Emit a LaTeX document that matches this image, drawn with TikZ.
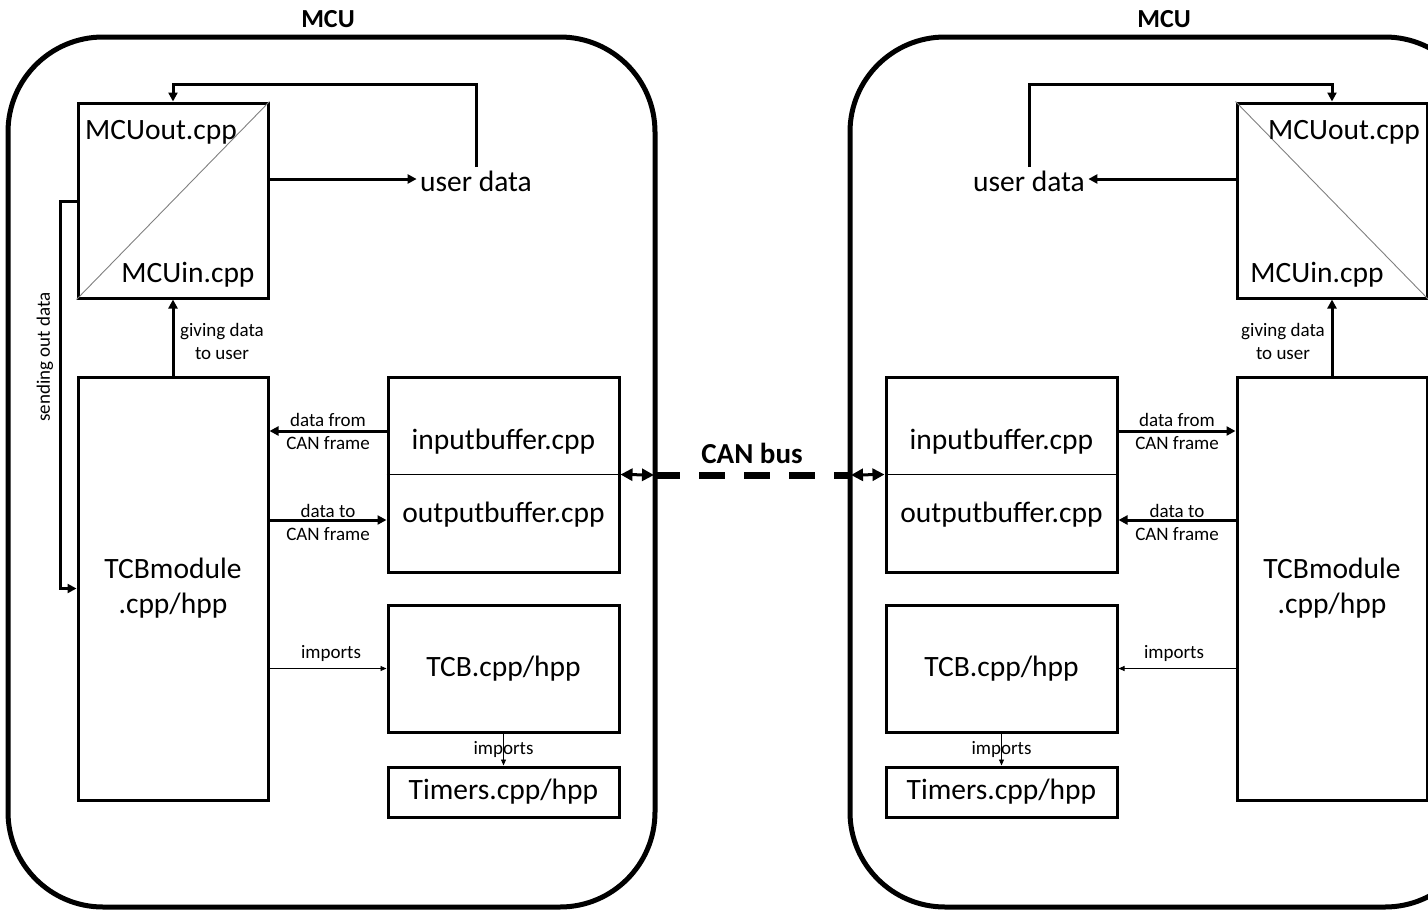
\documentclass[tikz,border=0pt]{standalone}
\usepackage{fontspec}
\setmainfont{Carlito}
\usetikzlibrary{arrows.meta}

\begin{document}
\begin{tikzpicture}[x=1pt, y=-1pt,
        bigtext/.style={font=\fontsize{29.5}{35}\selectfont},
        smalltext/.style={font=\fontsize{19}{23}\selectfont, align=center, inner sep=1pt},
        titletext/.style={font=\fontsize{26}{30}\selectfont\bfseries},
        filebox/.style={draw, line width=3pt, inner sep=0pt, bigtext, align=center},
        board/.style={line width=5pt, rounded corners=95pt},
        divider/.style={line width=0.9pt},
        split/.style={line width=0.9pt, gray},
        arr/.style={line width=3pt, -{Triangle[length=9pt,width=9pt]}},
        thinarr/.style={line width=0.9pt, -{Triangle[length=6pt,width=5pt]}},
        canarr/.style={line width=3pt, {Triangle[length=12pt,width=12pt]}-{Triangle[length=12pt,width=12pt]}},
        canline/.style={line width=7pt, dash pattern=on 26pt off 19pt}
    ]
    \useasboundingbox (0,0) rectangle (1428,911);
    \clip (0,0) rectangle (1428,911);

    % the two boards
    \draw[board] (8,37) rectangle (655,907);
    \draw[board] (850,37) rectangle (1480,907);
    \node[titletext] (mcuL) at (328,19) {MCU};
    \node[titletext] (mcuR) at (1164,19) {MCU};

    \foreach \s/\c/\m/\inr/\outr in {L/0/1/east/west, R/1505/-1/west/east} {
    \begin{scope}[shift={(\c,0)}, xscale=\m]
        \node[filebox, minimum width=190pt, minimum height=195pt] (mcuio\s) at (173,200.5) {};
        \node[filebox, minimum width=190pt, minimum height=423pt] (tcbm\s) at (173,588.5) {TCBmodule\\.cpp/hpp};
        \node[filebox, minimum width=231pt, minimum height=195pt] (buf\s) at (503.5,474.5) {};
        \node[filebox, minimum width=231pt, minimum height=127pt] (tcb\s) at (503.5,668.5) {TCB.cpp/hpp};
        \node[filebox, minimum width=231pt, minimum height=50pt] (tim\s) at (503.5,792) {Timers.cpp/hpp};
        \node[bigtext] (user\s) at (476,181) {user data};
        \coordinate (top\s) at (173,84);

        \draw[split] (mcuio\s.south \outr) -- (mcuio\s.north \inr);
        \node[bigtext] (out\s) at (161,132) {MCUout.cpp};
        \node[bigtext] (in\s) at (188,275) {MCUin.cpp};
        \draw[divider] (buf\s.\outr) -- (buf\s.\inr);
        \node[bigtext] (ibuf\s) at (503.5,442) {inputbuffer.cpp};
        \node[bigtext] (obuf\s) at (503.5,515) {outputbuffer.cpp};

        \draw[arr] (user\s.north) |- (top\s) -- (mcuio\s.north);
        \draw[arr] (mcuio\s.\inr |- 0,179) -- (user\s.\outr |- 0,179);
        \draw[arr] (tcbm\s.north) -- (mcuio\s.south);
        \node[smalltext] (give\s) at (222,341) {giving data\\to user};
        \draw[arr] (buf\s.\outr |- 0,431) -- (tcbm\s.\inr |- 0,431);
        \node[smalltext] (from\s) at (328,431) {data from\\CAN frame};
        \draw[arr] (tcbm\s.\inr |- 0,520) -- (buf\s.\outr |- 0,520);
        \node[smalltext] (to\s) at (328,522) {data to\\CAN frame};
        \draw[thinarr] (tcbm\s.\inr |- tcb\s) -- (tcb\s.\outr);
        \node[smalltext] (imp\s) at (331,653) {imports};
        \draw[thinarr] (tcb\s) -- (tim\s);
        \node[smalltext] (imq\s) at (503.5,749) {imports};
    \end{scope}
    }

    % only the left board shows this loop
    \coordinate (send) at (60,201);
    \draw[arr] (mcuioL.west |- send) -- (send) |- (tcbmL.west);
    \node[smalltext, rotate=90] (sendtext) at (45,357) {sending out data};

    % bus between the boards
    \coordinate (canL) at (654,475);
    \coordinate (canR) at (851,475);
    \draw[canarr] (bufL.east) -- (canL);
    \draw[canarr] (canR) -- (bufR.west);
    \draw[canline] (canL) -- (canR);
    \node[font=\fontsize{29}{34}\selectfont\bfseries] (canbus) at (752,453) {CAN bus};
\end{tikzpicture}
\end{document}
